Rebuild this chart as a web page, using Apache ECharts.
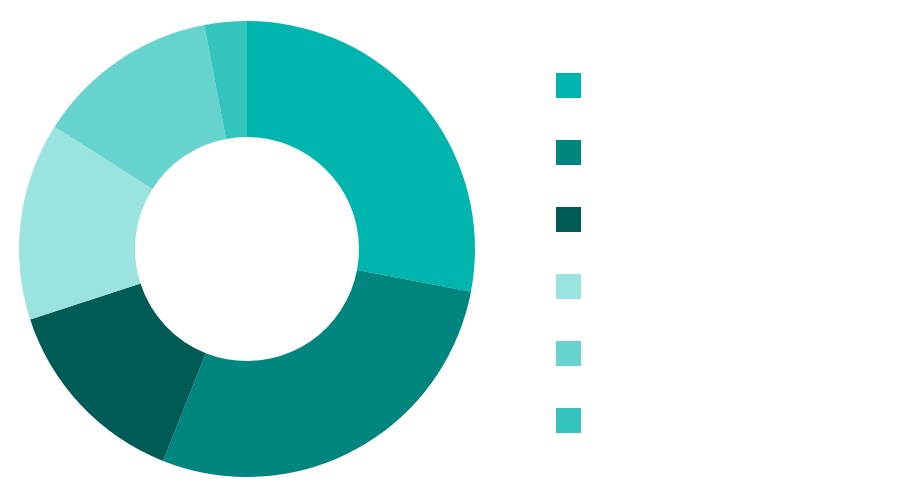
<!DOCTYPE html>
<html><head><meta charset="utf-8">
<script src="https://cdn.jsdelivr.net/npm/echarts@6/dist/echarts.min.js"></script>
<style>html,body{margin:0;padding:0;background:#fff}#c{width:900px;height:495px}</style>
</head><body><div id="c"></div>
<script>
const categories = ['Segment 1','Segment 2','Segment 3','Segment 4','Segment 5','Segment 6'];
const values = [28, 28, 14, 14, 13, 3];
const colors = ['#00b5ad','#00857f','#005a55','#9ae3df','#66d3cd','#33c4bd'];
const chart = echarts.init(document.getElementById('c'), null, {renderer:'canvas'});
chart.setOption({
  animation: false,
  color: colors,
  legend: {
    orient: 'vertical', left: 551, top: 68,
    itemWidth: 25, itemHeight: 25, itemGap: 42,
    icon: 'rect',
    formatter: () => '',
    data: categories
  },
  series: [{
    type: 'pie',
    center: [247, 249],
    radius: [112, 228],
    startAngle: 90,
    clockwise: true,
    label: {show: false},
    labelLine: {show: false},
    emphasis: {disabled: true},
    data: categories.map((n, i) => ({name: n, value: values[i]}))
  }]
});
</script></body></html>
